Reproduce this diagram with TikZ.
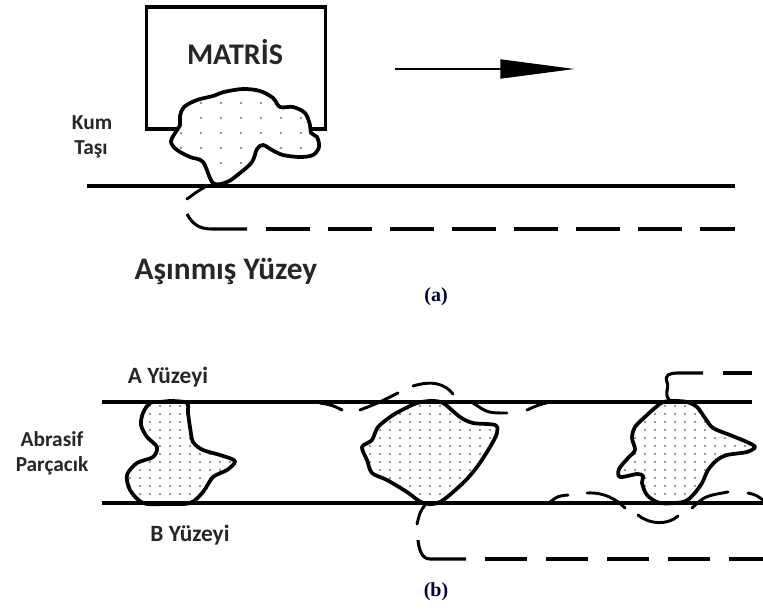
\documentclass[tikz,border=0pt]{standalone}
\usepackage{fontspec}
\setmainfont{Carlito}
\newfontfamily\tagfont{Liberation Serif}
\usetikzlibrary{arrows.meta}
\begin{document}
\begin{tikzpicture}[x=0.75pt,y=-0.75pt,
  surface/.style={line width=2.3pt},
  worn/.style={line width=2.3pt},
  grain/.style={line width=2.8pt, line join=round, fill=white},
  crack/.style={line width=2.2pt, line cap=round},
  speck/.style={fill=black!55},
  lbl/.style={font=\bfseries\fontsize{17.5}{19}\selectfont, text=black!85, inner sep=0pt},
  smalllbl/.style={font=\bfseries\fontsize{16}{18}\selectfont, text=black!85, inner sep=0pt},
  biglbl/.style={font=\bfseries\fontsize{23.5}{26}\selectfont, text=black!85, inner sep=0pt},
  tag/.style={font=\tagfont\bfseries\fontsize{15}{17}\selectfont, text=black!80!blue, inner sep=0pt}
]
\useasboundingbox (0,0) rectangle (763,610);

% ---------------- (a) grinding against the surface ----------------
\node[draw, line width=2.3pt, minimum width=134pt, minimum height=91.5pt, inner sep=0pt]
  (matrix) at (236,68) {};
\node[biglbl, font=\bfseries\fontsize{22.5}{25}\selectfont] (matrislbl) at (235,52) {MATRİS};

% direction of motion
\coordinate (arrS) at (395,69);
\coordinate (arrE) at (575,69);
\draw[line width=2.2pt, -{Triangle[length=56pt,width=14pt]}] (arrS) -- (arrE);

% sand grain
\def\cloud{(213,183) (203,162) (190,157) (177,150) (171,142) (175,133) (180,125)
  (180,116) (184,107) (197,100) (213,96) (224,92) (243,89) (260,91)
  (273,98) (280,107) (293,107) (305,113) (310,125) (311,133) (317,137)
  (319,147) (313,155) (300,157) (283,155) (272,150) (263,145) (257,149)
  (252,162) (240,173) (227,182)}
\fill[white] plot[smooth cycle, tension=0.55] coordinates {\cloud};
\begin{scope}
  \clip plot[smooth cycle, tension=0.55] coordinates {\cloud};
  \foreach \yy in {103,118,133,148,163}
    \foreach \xx in {181,201,221,241,261,281,301}
      \fill[speck] (\xx,\yy) circle (0.85pt);
\end{scope}
\draw[grain, fill=none] plot[smooth cycle, tension=0.55] coordinates {\cloud};

% original surface
\coordinate (sa1) at (87,186);
\coordinate (sa2) at (735,186);
\draw[surface] (sa1) -- (sa2);

% scratched path below
\coordinate (ca1) at (205,187);
\coordinate (ca2) at (187,199);
\draw[crack] (ca1) .. controls (198,191) .. (ca2);
\coordinate (wa0) at (187,214);
\coordinate (wa1) at (247,229);
\coordinate (wa2) at (266,229);
\coordinate (wa3) at (735,229);
\draw[worn] (wa0) .. controls (193,225) and (200,229) .. (212,229) -- (wa1);
\draw[worn, dash pattern=on 33pt off 13.5pt] (wa2) -- (wa3);

\node[smalllbl] (kum) at (92,123) {Kum};
\node[smalllbl] (tasi) at (91,149) {Taşı};
\node[biglbl] (asinmis) at (226,272) {Aşınmış Yüzey};
\node[tag] (taga) at (436,297) {(a)};

% ---------------- (b) particle between two surfaces ----------------
\coordinate (ta1) at (102,402);
\coordinate (ta2) at (752,402);
\coordinate (tb1) at (102,503);
\coordinate (tb2) at (763,503);

% particle 1
\def\pone{(150,403) (160,402) (172,401) (187,403) (188,413) (190,427)
  (193,442) (203,450) (220,455) (235,461) (227,470) (213,477) (203,492)
  (190,503) (165,504) (143,503) (130,490) (127,475) (137,463) (153,457)
  (157,447) (147,437) (141,425) (143,413)}
\fill[white] plot[smooth cycle, tension=0.5] coordinates {\pone};
\begin{scope}
  \clip plot[smooth cycle, tension=0.5] coordinates {\pone};
  \foreach \yy in {406,414,...,502}
    \foreach \xx in {130,140,...,240}
      \fill[speck] (\xx,\yy) circle (0.8pt);
\end{scope}
\draw[grain, fill=none] plot[smooth cycle, tension=0.5] coordinates {\pone};

% particle 2
\def\ptwo{(417,403) (430,401) (443,403) (460,417) (473,423) (495,425)
  (497,433) (490,447) (477,467) (463,483) (440,502) (423,503) (407,492)
  (387,480) (372,473) (367,460) (362,447) (372,440) (378,427) (393,415)
  (408,407)}
\fill[white] plot[smooth cycle, tension=0.5] coordinates {\ptwo};
\begin{scope}
  \clip plot[smooth cycle, tension=0.5] coordinates {\ptwo};
  \foreach \yy in {406,414,...,502}
    \foreach \xx in {360,370,...,500}
      \fill[speck] (\xx,\yy) circle (0.8pt);
\end{scope}
\draw[grain, fill=none] plot[smooth cycle, tension=0.5] coordinates {\ptwo};

% particle 3
\def\pthree{(663,402) (675,401) (687,402) (697,407) (705,418) (713,428)
  (730,435) (747,442) (755,447) (747,452) (727,455) (717,460) (708,470)
  (702,483) (693,495) (683,502) (660,503) (647,495) (642,483) (643,476)
  (637,474) (620,477) (619,469) (628,458) (635,450) (632,438) (635,427)
  (647,415) (656,407)}
\fill[white] plot[smooth cycle, tension=0.5] coordinates {\pthree};
\begin{scope}
  \clip plot[smooth cycle, tension=0.5] coordinates {\pthree};
  \foreach \yy in {406,414,...,502}
    \foreach \xx in {615,625,...,760}
      \fill[speck] (\xx,\yy) circle (0.8pt);
\end{scope}
\draw[grain, fill=none] plot[smooth cycle, tension=0.5] coordinates {\pthree};

% the two surfaces
\draw[surface] (ta1) -- (ta2);
\draw[surface] (tb1) -- (tb2);

% cracks around particle 2
\draw[crack] (320,403) .. controls (332,405) .. (342,410);
\draw[crack] (360,410) .. controls (378,403) .. (398,393);
\draw[crack] (413,386) .. controls (433,380) and (445,384) .. (453,394);
\draw[crack] (473,403) .. controls (488,413) .. (507,413);
\draw[crack] (527,410) .. controls (538,405) .. (550,402);
\draw[crack] (425,505) .. controls (420,512) .. (417,524);

% cracks around particle 3
\draw[crack] (550,502) .. controls (558,496) .. (568,495);
\draw[crack] (587,493) .. controls (605,492) and (617,500) .. (625,508);
\draw[crack] (638,515) .. controls (650,525) and (668,525) .. (678,516);
\draw[crack] (692,508) .. controls (705,496) .. (728,492);
\draw[crack] (748,493) .. controls (756,495) .. (763,500);

% scratched paths
\coordinate (wb0) at (418,540);
\coordinate (wb1) at (466,559);
\coordinate (wb2) at (485,559);
\coordinate (wb3) at (763,559);
\draw[worn] (wb0) .. controls (419,550) and (422,559) .. (430,559) -- (wb1);
\draw[worn, dash pattern=on 31.5pt off 14.25pt] (wb2) -- (wb3);

\coordinate (wc0) at (672,402);
\coordinate (wc1) at (703,373);
\coordinate (wc2) at (723,373);
\coordinate (wc3) at (752,373);
\draw[worn] (wc0) .. controls (662,396) and (670,388) .. (667,382)
  .. controls (664,375) and (670,373) .. (677,373) -- (wc1);
\draw[worn] (wc2) -- (wc3);

\node[lbl] (ayuz) at (168,377) {A Yüzeyi};
\node[lbl] (byuz) at (190,535) {B Yüzeyi};
\node[smalllbl, align=center] (abr) at (52,453) {Abrasif\\[1pt]Parçacık};
\node[tag] (tagb) at (436,592) {(b)};
\end{tikzpicture}
\end{document}
